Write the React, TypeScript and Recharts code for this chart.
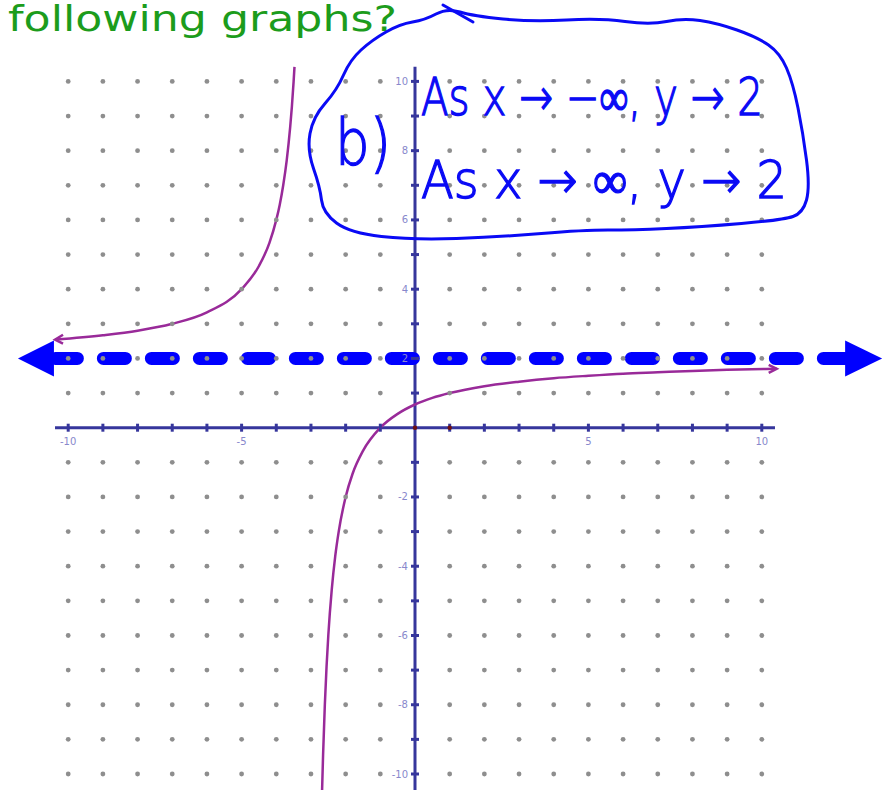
import React from 'react'
import {
  ComposedChart,
  Line,
  Scatter,
  XAxis,
  YAxis,
  ReferenceLine,
} from 'recharts'

// integer lattice of the graph paper
const gridXs = [-10, -9, -8, -7, -6, -5, -4, -3, -2, -1, 1, 2, 3, 4, 5, 6, 7, 8, 9, 10]
const gridYs = [-10, -9, -8, -7, -6, -5, -4, -3, -2, -1, 1, 2, 3, 4, 5, 6, 7, 8, 9, 10]

const xTickLabels = [-10, -5, 5, 10]
const yTickLabels = [10, 8, 6, 4, 2, -2, -4, -6, -8, -10]

// branch left of the vertical asymptote
const leftBranch = [
  { x: -10.38, y: 2.54 },
  { x: -9, y: 2.67 },
  { x: -8, y: 2.8 },
  { x: -7, y: 3.0 },
  { x: -6, y: 3.33 },
  { x: -5, y: 4.0 },
  { x: -4.5, y: 4.67 },
  { x: -4.2, y: 5.33 },
  { x: -4, y: 6.0 },
  { x: -3.9, y: 6.44 },
  { x: -3.8, y: 7.0 },
  { x: -3.7, y: 7.71 },
  { x: -3.6, y: 8.67 },
  { x: -3.55, y: 9.27 },
  { x: -3.5, y: 10.0 },
  { x: -3.475, y: 10.42 },
]

// branch right of the vertical asymptote
const rightBranch = [
  { x: -2.68, y: -10.5 },
  { x: -2.65, y: -9.43 },
  { x: -2.6, y: -8.0 },
  { x: -2.55, y: -6.89 },
  { x: -2.5, y: -6.0 },
  { x: -2.4, y: -4.67 },
  { x: -2.3, y: -3.71 },
  { x: -2.2, y: -3.0 },
  { x: -2, y: -2.0 },
  { x: -1.8, y: -1.33 },
  { x: -1.5, y: -0.67 },
  { x: -1, y: 0 },
  { x: -0.5, y: 0.4 },
  { x: 0, y: 0.67 },
  { x: 0.5, y: 0.86 },
  { x: 1, y: 1.0 },
  { x: 2, y: 1.2 },
  { x: 3, y: 1.33 },
  { x: 4, y: 1.43 },
  { x: 5, y: 1.5 },
  { x: 6, y: 1.56 },
  { x: 7, y: 1.6 },
  { x: 8, y: 1.64 },
  { x: 9, y: 1.67 },
  { x: 10.43, y: 1.7 },
]

// horizontal asymptote y = 2, drawn past the grid on both sides
const asymptote = [
  { x: -10.37, y: 2 },
  { x: 12.41, y: 2 },
]
const asymptoteLeftTip = [{ x: -11.45, y: 2 }]
const asymptoteRightTip = [{ x: 13.47, y: 2 }]

const markedPoints = [
  { x: 0, y: 0 },
  { x: 1, y: 0 },
]

const X_DOMAIN: [number, number] = [-11.9666, 13.5813]
const Y_DOMAIN: [number, number] = [-10.462, 12.3506]

const AXIS = '#36369c'
const LABEL = '#8888cc'
const CURVE = '#992a99'
const PEN = '#0a0af5'

const dots = gridXs.flatMap((x) => gridYs.map((y) => ({ x, y })))
const xTicks = gridXs.map((x) => ({ x, y: 0 }))
const yTicks = gridYs.map((y) => ({ x: 0, y }))
const xLabels = xTickLabels.map((x) => ({ x, y: 0, label: String(x) }))
const yLabels = yTickLabels.map((y) => ({ x: 0, y, label: String(y) }))

// smooth closed outline through a list of points
function smoothPath(pts: number[][]) {
  const n = pts.length
  let d = ''
  for (let i = 0; i < n; i++) {
    const p = pts[i]
    const q = pts[(i + 1) % n]
    const mx = (p[0] + q[0]) / 2
    const my = (p[1] + q[1]) / 2
    if (i === 0) {
      const prev = pts[n - 1]
      d += `M${(prev[0] + p[0]) / 2},${(prev[1] + p[1]) / 2} `
    }
    d += `Q${p[0]},${p[1]} ${mx},${my} `
  }
  return d + 'Z'
}

const loop = [
  [350, 60], [372, 40], [400, 24], [425, 20], [447, 8], [473, 16],
  [533, 22], [600, 18], [650, 25], [683, 18], [717, 23], [757, 37],
  [780, 53], [793, 83], [803, 133], [810, 187], [803, 213], [783, 220],
  [700, 227], [633, 230], [583, 230], [500, 237], [413, 240], [350, 233],
  [323, 213], [320, 187], [307, 150], [313, 117], [337, 90],
]

function Annotation() {
  return (
    <svg
      width={886}
      height={790}
      style={{ position: 'absolute', left: 0, top: 0, pointerEvents: 'none' }}
    >
      <text
        x={8}
        y={31}
        fill="#1c9c1c"
        fontFamily="DejaVu Sans"
        fontSize={35}
        textLength={389}
        lengthAdjust="spacingAndGlyphs"
      >
        following graphs?
      </text>
      <path d={smoothPath(loop)} fill="none" stroke={PEN} strokeWidth={3} strokeLinejoin="round" />
      <path d="M443,5 L473,22" fill="none" stroke={PEN} strokeWidth={3} strokeLinecap="round" />
      <g fill={PEN} stroke={PEN} strokeWidth={1.4} fontFamily="DejaVu Sans" fontWeight={200}>
        <text x={335} y={165} fontSize={64} textLength={56} lengthAdjust="spacingAndGlyphs">
          b)
        </text>
        <text x={421} y={115} fontSize={52} textLength={342} lengthAdjust="spacingAndGlyphs">
          As x → −∞, y → 2
        </text>
        <text x={421} y={198} fontSize={52} textLength={366} lengthAdjust="spacingAndGlyphs">
          As x → ∞, y → 2
        </text>
      </g>
    </svg>
  )
}

export default function App() {
  return (
    <div style={{ position: 'absolute', left: 0, top: 0, width: 886, height: 790, background: '#fff' }}>
      <ComposedChart width={886} height={790} margin={{ top: 0, right: 0, bottom: 0, left: 0 }}>
        <XAxis type="number" dataKey="x" domain={X_DOMAIN} allowDataOverflow hide />
        <YAxis type="number" dataKey="y" domain={Y_DOMAIN} allowDataOverflow hide />

        <Scatter
          data={dots}
          isAnimationActive={false}
          shape={(p: any) => <circle cx={p.cx} cy={p.cy} r={2.4} fill="#8e8e8e" />}
        />

        <ReferenceLine
          segment={[{ x: -10.38, y: 0 }, { x: 10.38, y: 0 }]}
          stroke={AXIS}
          strokeWidth={3}
        />
        <ReferenceLine
          segment={[{ x: 0, y: 10.42 }, { x: 0, y: -10.46 }]}
          stroke={AXIS}
          strokeWidth={3}
        />
        <Scatter
          data={xTicks}
          isAnimationActive={false}
          shape={(p: any) => (
            <line x1={p.cx} x2={p.cx} y1={p.cy - 4} y2={p.cy + 4} stroke={AXIS} strokeWidth={3} />
          )}
        />
        <Scatter
          data={yTicks}
          isAnimationActive={false}
          shape={(p: any) => (
            <line x1={p.cx - 4} x2={p.cx + 4} y1={p.cy} y2={p.cy} stroke={AXIS} strokeWidth={3} />
          )}
        />
        <Scatter
          data={xLabels}
          isAnimationActive={false}
          shape={(p: any) => (
            <text x={p.cx} y={p.cy + 17} textAnchor="middle" fontSize={10} fontFamily="DejaVu Sans" fill={LABEL}>
              {p.payload.label}
            </text>
          )}
        />
        <Scatter
          data={yLabels}
          isAnimationActive={false}
          shape={(p: any) => (
            <text x={p.cx - 7} y={p.cy + 3.5} textAnchor="end" fontSize={10} fontFamily="DejaVu Sans" fill={LABEL}>
              {p.payload.label}
            </text>
          )}
        />
        <Scatter
          data={markedPoints}
          isAnimationActive={false}
          shape={(p: any) => <circle cx={p.cx} cy={p.cy} r={2.2} fill="#6e1010" />}
        />

        <Line
          data={leftBranch}
          dataKey="y"
          type="monotone"
          stroke={CURVE}
          strokeWidth={2.5}
          dot={false}
          activeDot={false}
          isAnimationActive={false}
        />
        <Line
          data={rightBranch}
          dataKey="y"
          type="monotone"
          stroke={CURVE}
          strokeWidth={2.5}
          dot={false}
          activeDot={false}
          isAnimationActive={false}
        />
        <Scatter
          data={leftBranch.slice(0, 1)}
          isAnimationActive={false}
          shape={(p: any) => (
            <path
              d={`M${p.cx + 8},${p.cy - 5} L${p.cx},${p.cy} L${p.cx + 8},${p.cy + 4}`}
              fill="none"
              stroke={CURVE}
              strokeWidth={2.5}
            />
          )}
        />
        <Scatter
          data={rightBranch.slice(-1)}
          isAnimationActive={false}
          shape={(p: any) => (
            <path
              d={`M${p.cx - 8},${p.cy - 4} L${p.cx},${p.cy} L${p.cx - 8},${p.cy + 4}`}
              fill="none"
              stroke={CURVE}
              strokeWidth={2.5}
            />
          )}
        />

        <Line
          data={asymptote}
          dataKey="y"
          type="linear"
          stroke="#0000ff"
          strokeWidth={13}
          strokeDasharray="22 26"
          strokeLinecap="round"
          dot={false}
          activeDot={false}
          isAnimationActive={false}
        />
        <Scatter
          data={asymptoteLeftTip}
          isAnimationActive={false}
          shape={(p: any) => (
            <polygon
              points={`${p.cx},${p.cy} ${p.cx + 36},${p.cy - 18} ${p.cx + 36},${p.cy + 18}`}
              fill="#0000ff"
            />
          )}
        />
        <Scatter
          data={asymptoteRightTip}
          isAnimationActive={false}
          shape={(p: any) => (
            <polygon
              points={`${p.cx},${p.cy} ${p.cx - 37},${p.cy - 18} ${p.cx - 37},${p.cy + 18}`}
              fill="#0000ff"
            />
          )}
        />
      </ComposedChart>
      <Annotation />
    </div>
  )
}
